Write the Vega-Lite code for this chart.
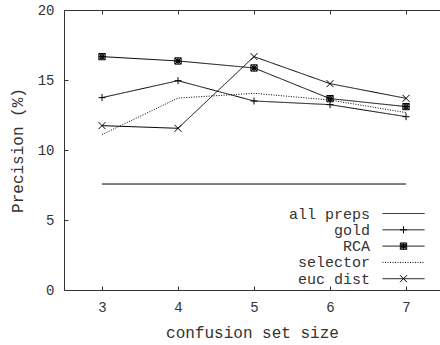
{
  "$schema": "https://vega.github.io/schema/vega-lite/v6.json",
  "width": 376,
  "height": 280,
  "autosize": {"type": "none"},
  "padding": {"left": 64, "top": 10, "right": 0, "bottom": 55},
  "background": "white",
  "config": {
    "view": {"stroke": null},
    "font": "Liberation Mono",
    "axis": {
      "domainColor": "#333",
      "tickColor": "#333",
      "tickSize": -4,
      "labelColor": "#333",
      "titleColor": "#333",
      "labelFont": "Liberation Mono",
      "titleFont": "Liberation Mono",
      "labelFontSize": 14,
      "titleFontSize": 16,
      "titleFontWeight": "normal",
      "grid": false
    },
    "legend": {
      "labelFont": "Liberation Mono",
      "labelFontSize": 15,
      "labelColor": "#333",
      "padding": 0
    }
  },
  "data": {
    "values": [
      {"size": 3, "precision": 7.57, "series": "all preps"},
      {"size": 7, "precision": 7.57, "series": "all preps"},
      {"size": 3, "precision": 13.74, "series": "gold"},
      {"size": 4, "precision": 14.95, "series": "gold"},
      {"size": 5, "precision": 13.5, "series": "gold"},
      {"size": 6, "precision": 13.24, "series": "gold"},
      {"size": 7, "precision": 12.38, "series": "gold"},
      {"size": 3, "precision": 16.67, "series": "RCA"},
      {"size": 4, "precision": 16.36, "series": "RCA"},
      {"size": 5, "precision": 15.86, "series": "RCA"},
      {"size": 6, "precision": 13.67, "series": "RCA"},
      {"size": 7, "precision": 13.1, "series": "RCA"},
      {"size": 3, "precision": 11.1, "series": "selector"},
      {"size": 4, "precision": 13.71, "series": "selector"},
      {"size": 5, "precision": 14.05, "series": "selector"},
      {"size": 6, "precision": 13.57, "series": "selector"},
      {"size": 7, "precision": 12.67, "series": "selector"},
      {"size": 3, "precision": 11.74, "series": "euc dist"},
      {"size": 4, "precision": 11.55, "series": "euc dist"},
      {"size": 5, "precision": 16.67, "series": "euc dist"},
      {"size": 6, "precision": 14.74, "series": "euc dist"},
      {"size": 7, "precision": 13.69, "series": "euc dist"}
    ]
  },
  "layer": [
    {
      "mark": {"type": "line", "color": "black", "strokeWidth": 1},
      "encoding": {
        "x": {
          "field": "size", "type": "quantitative",
          "scale": {"domain": [2.5, 7.447], "nice": false, "zero": false},
          "axis": {"orient": "bottom", "values": [3, 4, 5, 6, 7], "title": "confusion set size", "labelPadding": 14, "titlePadding": 10}
        },
        "y": {
          "field": "precision", "type": "quantitative",
          "scale": {"domain": [0, 20], "nice": false},
          "axis": {"values": [0, 5, 10, 15, 20], "title": "Precision (%)", "labelPadding": 14, "titlePadding": 12}
        },
        "strokeDash": {
          "field": "series", "type": "nominal",
          "scale": {
            "domain": ["all preps", "gold", "RCA", "selector", "euc dist"],
            "range": [[1, 0], [1, 0], [1, 0], [1, 1.5], [1, 0]]
          },
          "legend": {
            "title": null,
            "orient": "none",
            "legendX": 332,
            "legendY": 196,
            "symbolType": "M-6,0H6",
            "symbolSize": 49,
            "symbolStrokeColor": "black",
            "symbolStrokeWidth": 1,
            "labelAlign": "right",
            "labelOffset": -41,
            "rowPadding": 0.3
          }
        }
      }
    },
    {
      "mark": {"type": "point", "filled": false, "stroke": "black", "strokeWidth": 1, "size": 49, "opacity": 1},
      "encoding": {
        "x": {
          "field": "size", "type": "quantitative",
          "axis": {"orient": "top", "values": [3, 4, 5, 6, 7], "labels": false, "title": null}
        },
        "y": {"field": "precision", "type": "quantitative", "axis": null},
        "shape": {
          "field": "series", "type": "nominal",
          "sort": ["all preps", "gold", "RCA", "selector", "euc dist"],
          "scale": {
            "range": ["M0,0h0", "M-1,0H1M0,-1V1", "M-0.9,-0.9H0.9V0.9H-0.9ZM-0.9,-0.9L0.9,0.9M-0.9,0.9L0.9,-0.9M-0.9,0H0.9M0,-0.9V0.9M-0.5,-0.5H0.5V0.5H-0.5Z", "M0,0h0", "M-1,-1L1,1M-1,1L1,-1"]
          },
          "legend": {
            "title": null,
            "orient": "none",
            "legendX": 332,
            "legendY": 196,
            "symbolSize": 49,
            "symbolStrokeColor": "black",
            "symbolStrokeWidth": 1,
            "symbolFillColor": "transparent",
            "labelExpr": "''",
            "rowPadding": 0.3
          }
        }
      }
    }
  ],
  "resolve": {"axis": {"x": "independent", "y": "independent"}}
}
